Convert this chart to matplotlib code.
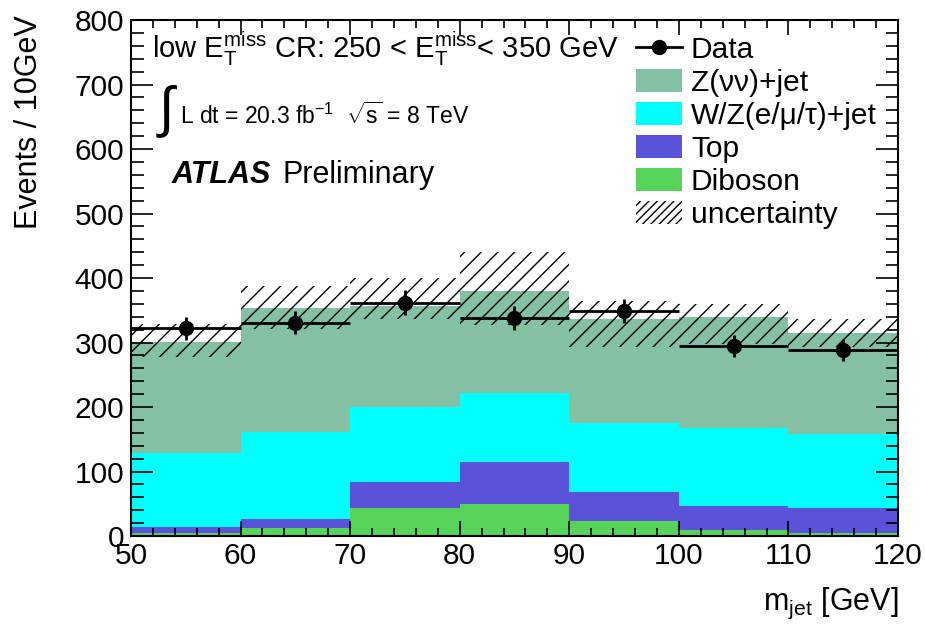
import matplotlib.pyplot as plt
import numpy as np
from matplotlib.lines import Line2D
from matplotlib.patches import Patch

plt.rcParams['font.family'] = ['Liberation Sans', 'DejaVu Sans']
plt.rcParams['mathtext.fontset'] = 'custom'
plt.rcParams['mathtext.rm'] = 'Liberation Sans'
plt.rcParams['mathtext.it'] = 'Liberation Sans:italic'
plt.rcParams['hatch.linewidth'] = 1.0

# m_jet bins [GeV]
edges = np.array([50, 60, 70, 80, 90, 100, 110, 120])

# stacked backgrounds, events per bin
diboson = np.array([4, 12, 44, 50, 23, 9, 4])
top = np.array([10, 14, 40, 64, 45, 38, 40])
wz_lep = np.array([114, 136, 116, 108, 107, 121, 114])
z_nunu = np.array([173, 192, 157, 158, 161, 172, 156])

# uncertainty band
band_lo = np.array([278, 321, 337, 327, 293, 298, 293])
band_hi = np.array([329, 388, 400, 441, 365, 360, 337])

# data
data = np.array([322, 331, 362, 338, 349, 295, 288])

colors = {'zvv': '#84c0a4', 'wz': '#00ffff', 'top': '#5a53d9', 'dib': '#57d35a'}

fig = plt.figure(figsize=(9.25, 6.33), dpi=100)
ax = fig.add_axes([0.1416, 0.1532, 0.8292, 0.8152])

base = np.zeros(len(diboson))
for vals, c in [(diboson, colors['dib']), (top, colors['top']),
                (wz_lep, colors['wz']), (z_nunu, colors['zvv'])]:
    ax.stairs(base + vals, edges, baseline=base.copy(), fill=True, color=c, lw=0)
    base = base + vals

ax.stairs(band_hi, edges, baseline=band_lo, fill=True, facecolor='none',
          edgecolor='black', hatch='//', lw=0)

centers = 0.5 * (edges[1:] + edges[:-1])
ax.errorbar(centers, data, xerr=5, yerr=np.sqrt(data), fmt='o', color='black',
            markersize=10, elinewidth=2, capsize=0)

ax.set_xlim(50, 120)
ax.set_ylim(0, 800)
ax.set_xticks(np.arange(50, 121, 10))
ax.set_xticks(np.arange(50, 121, 2), minor=True)
ax.set_yticks(np.arange(0, 801, 100))
ax.set_yticks(np.arange(0, 801, 20), minor=True)
ax.tick_params(axis='both', which='both', direction='in', top=True, right=True,
               labelsize=21.5, width=1.2)
ax.tick_params(axis='y', which='major', length=16, pad=5)
ax.tick_params(axis='y', which='minor', length=9)
ax.tick_params(axis='x', which='major', length=11, pad=4)
ax.tick_params(axis='x', which='minor', length=6)
for s in ax.spines.values():
    s.set_linewidth(1.5)

ax.set_xlabel(r'm$_{\mathregular{jet}}$ [GeV]', fontsize=22, ha='right', va='top')
ax.xaxis.set_label_coords(1.0, -0.097)
ax.set_ylabel('Events / 10GeV', fontsize=22, ha='right', va='bottom')
ax.yaxis.set_label_coords(-0.113, 1.01)

ax.text(0.027, 0.945, r'low E$_{\mathregular{T}}^{\mathregular{miss}}$ CR: 250 < '
        r'E$_{\mathregular{T}}^{\mathregular{miss}}$< 350 GeV',
        transform=ax.transAxes, fontsize=21, va='center')
ax.text(0.033, 0.822, r'$\int$', transform=ax.transAxes, fontsize=40, va='center')
ax.text(0.064, 0.815, r'L dt = 20.3 fb$^{\mathregular{-1}}$  $\sqrt{\mathregular{s}}$ = 8 TeV',
        transform=ax.transAxes, fontsize=16.5, va='center')
ax.text(0.053, 0.70, 'ATLAS', transform=ax.transAxes, fontsize=22,
        fontweight='bold', fontstyle='italic', va='center')
ax.text(0.197, 0.70, 'Preliminary', transform=ax.transAxes, fontsize=22, va='center')

handles = [
    Line2D([], [], color='black', marker='o', markersize=10, lw=2),
    Patch(facecolor=colors['zvv']),
    Patch(facecolor=colors['wz']),
    Patch(facecolor=colors['top']),
    Patch(facecolor=colors['dib']),
    Patch(facecolor='none', edgecolor='black', hatch='////', lw=0),
]
labels = ['Data', 'Z(\u03bd\u03bd)+jet', 'W/Z(e/\u03bc/\u03c4)+jet', 'Top',
          'Diboson', 'uncertainty']
ax.legend(handles, labels, loc='upper left', bbox_to_anchor=(0.658, 0.97),
          frameon=False, fontsize=21.5, handlelength=1.55, handleheight=0.85,
          labelspacing=0.16, handletextpad=0.3, borderaxespad=0, borderpad=0)

fig.savefig('out.png', dpi=100)
